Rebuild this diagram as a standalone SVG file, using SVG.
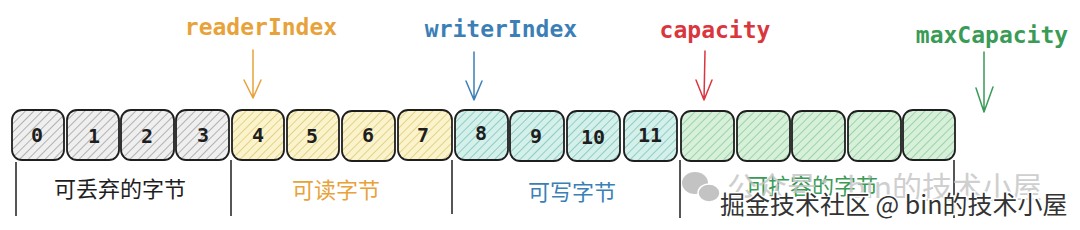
<svg xmlns="http://www.w3.org/2000/svg" width="1080" height="230" viewBox="0 0 1080 230">
<defs>
<pattern id="hg" width="6" height="6" patternUnits="userSpaceOnUse" patternTransform="rotate(45)"><rect width="6" height="6" fill="#efefef"/><line x1="0" y1="0" x2="0" y2="6" stroke="#909090" stroke-width="1.3"/></pattern>
<pattern id="hy" width="6" height="6" patternUnits="userSpaceOnUse" patternTransform="rotate(45)"><rect width="6" height="6" fill="#fbf3cc"/><line x1="0" y1="0" x2="0" y2="6" stroke="#d8c062" stroke-width="1.3"/></pattern>
<pattern id="hc" width="6" height="6" patternUnits="userSpaceOnUse" patternTransform="rotate(45)"><rect width="6" height="6" fill="#d3f0eb"/><line x1="0" y1="0" x2="0" y2="6" stroke="#6fb9ad" stroke-width="1.3"/></pattern>
<pattern id="hgr" width="6" height="6" patternUnits="userSpaceOnUse" patternTransform="rotate(45)"><rect width="6" height="6" fill="#d6f0da"/><line x1="0" y1="0" x2="0" y2="6" stroke="#7cc28c" stroke-width="1.3"/></pattern>
</defs>
<style>
.box{stroke:#1e1e1e;stroke-width:1.8}
.num{font-family:"DejaVu Sans Mono","Liberation Mono",monospace;font-weight:bold;font-size:20px;fill:#1e1e1e;text-anchor:middle}
.lbl{font-family:"DejaVu Sans Mono","Liberation Mono",monospace;font-weight:bold;font-size:23px;text-anchor:middle}
.cjk{font-family:"Noto Sans CJK SC","Noto Sans",sans-serif;font-size:22px;text-anchor:middle}
.br{stroke:#1e1e1e;stroke-width:1.5;fill:none}
.ar{fill:none;stroke-width:1.5;stroke-linecap:round;stroke-linejoin:round}
</style>
<rect width="1080" height="230" fill="#ffffff"/>

<g id="cells">
<g id="cell0"><rect class="box" x="12" y="110" width="52" height="50" rx="10" fill="url(#hg)"/><text class="num" x="37" y="142">0</text></g>
<g id="cell1"><rect class="box" x="67" y="110" width="52" height="50" rx="10" fill="url(#hg)"/><text class="num" x="94" y="143">1</text></g>
<g id="cell2"><rect class="box" x="121" y="110" width="53" height="50" rx="10" fill="url(#hg)"/><text class="num" x="147" y="143">2</text></g>
<g id="cell3"><rect class="box" x="176" y="110" width="53" height="50" rx="10" fill="url(#hg)"/><text class="num" x="203" y="142">3</text></g>
<g id="cell4"><rect class="box" x="232" y="110" width="52" height="50" rx="10" fill="url(#hy)"/><text class="num" x="258" y="142">4</text></g>
<g id="cell5"><rect class="box" x="287" y="110" width="52" height="50" rx="10" fill="url(#hy)"/><text class="num" x="312" y="143">5</text></g>
<g id="cell6"><rect class="box" x="342" y="111" width="53" height="50" rx="10" fill="url(#hy)"/><text class="num" x="368" y="142">6</text></g>
<g id="cell7"><rect class="box" x="398" y="110" width="54" height="50" rx="10" fill="url(#hy)"/><text class="num" x="423" y="142">7</text></g>
<g id="cell8"><rect class="box" x="455" y="110" width="53" height="50" rx="10" fill="url(#hc)"/><text class="num" x="481" y="140">8</text></g>
<g id="cell9"><rect class="box" x="510" y="111" width="54" height="50" rx="10" fill="url(#hc)"/><text class="num" x="536" y="143">9</text></g>
<g id="cell10"><rect class="box" x="567" y="111" width="53" height="50" rx="10" fill="url(#hc)"/><text class="num" x="593" y="144">10</text></g>
<g id="cell11"><rect class="box" x="624" y="111" width="53" height="50" rx="10" fill="url(#hc)"/><text class="num" x="650" y="142">11</text></g>
<g id="cell12"><rect class="box" x="681" y="111" width="53" height="50" rx="10" fill="url(#hgr)"/></g>
<g id="cell13"><rect class="box" x="737" y="111" width="53" height="50" rx="10" fill="url(#hgr)"/></g>
<g id="cell14"><rect class="box" x="792" y="111" width="53" height="50" rx="10" fill="url(#hgr)"/></g>
<g id="cell15"><rect class="box" x="848" y="111" width="53" height="50" rx="10" fill="url(#hgr)"/></g>
<g id="cell16"><rect class="box" x="903" y="110" width="52" height="50" rx="10" fill="url(#hgr)"/></g>
</g>

<g id="brackets">
<line class="br" x1="16" y1="162" x2="16" y2="216"/>
<line class="br" x1="231" y1="160" x2="231" y2="216"/>
<line class="br" x1="452" y1="160" x2="452" y2="214"/>
<line class="br" x1="680" y1="160" x2="680" y2="218"/>
<line class="br" x1="954" y1="160" x2="954" y2="218"/>
</g>

<g id="regions">
<text class="cjk" x="120" y="197" fill="#1e1e1e">可丢弃的字节</text>
<text class="cjk" x="336" y="198" fill="#e8a23a">可读字节</text>
<text class="cjk" x="572" y="200" fill="#3b7fb6">可写字节</text>
<text class="cjk" x="812" y="194" fill="#3a9b57">可扩容的字节</text>
</g>

<g id="pointers">
<g id="readerIndex"><text class="lbl" x="261" y="35" fill="#e8a23a">readerIndex</text>
<path class="ar" stroke="#e8a23a" d="M253 50 L253 98 M244 80 L253 98 L261 80"/></g>
<g id="writerIndex"><text class="lbl" x="501" y="37" fill="#3b7fb6">writerIndex</text>
<path class="ar" stroke="#3b7fb6" d="M474 52 L474 100 M466 81 L474 100 L482 81"/></g>
<g id="capacity"><text class="lbl" x="715" y="38" fill="#d9363e">capacity</text>
<path class="ar" stroke="#d9363e" d="M705 51 L704 100 M696 80 L704 100 L712 80"/></g>
<g id="maxCapacity"><text class="lbl" x="992" y="43" fill="#3a9b57">maxCapacity</text>
<path class="ar" stroke="#3a9b57" d="M984 52 L984 112 M976 88 L984 112 L993 87"/></g>
</g>

<g id="watermark">
<g fill="#bdbdbd" opacity="0.9">
<ellipse cx="695" cy="183" rx="13" ry="11"/>
<ellipse cx="709" cy="193" rx="11" ry="9" stroke="#ffffff" stroke-width="1.5"/>
</g>
<text x="727" y="198" font-family="Noto Sans CJK SC,sans-serif" font-size="30" fill="#c4c4c4" opacity="0.8">公众号：bin的技术小屋</text>
<text x="720" y="214" font-family="Noto Sans CJK SC,sans-serif" font-size="25" fill="#333333" stroke="#ffffff" stroke-width="3" paint-order="stroke">掘金技术社区 @ bin的技术小屋</text>
</g>
</svg>
